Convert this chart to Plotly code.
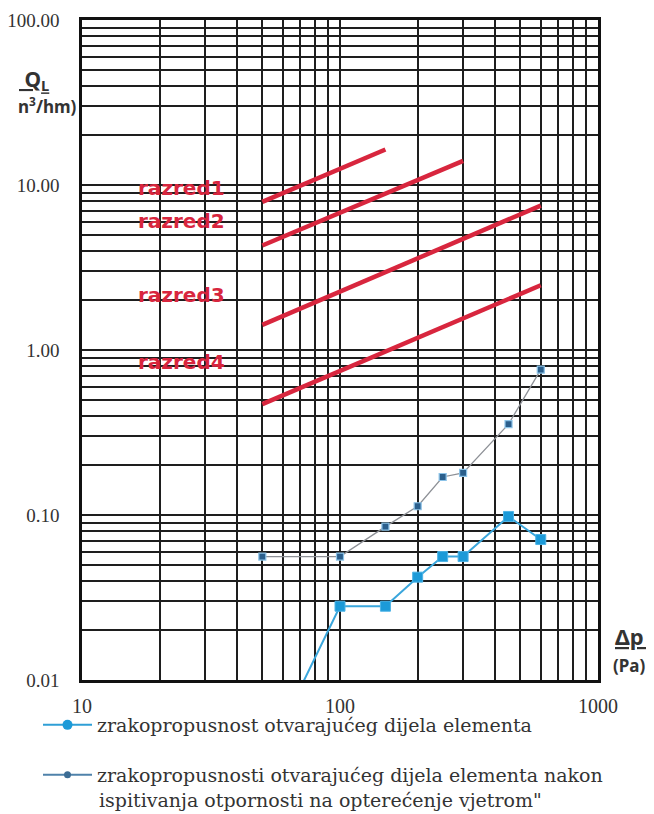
import plotly.graph_objects as go

# ---------------- data ----------------
razred_names = ["razred1", "razred2", "razred3", "razred4"]
razred1_dp = [50, 150]
razred1_q = [7.9, 16.4]
razred2_dp = [50, 300]
razred2_q = [4.3, 14.0]
razred3_dp = [50, 600]
razred3_q = [1.42, 7.5]
razred4_dp = [50, 600]
razred4_q = [0.47, 2.47]

series1_name = "zrakopropusnost otvarajućeg dijela elementa"
series1_dp = [50, 100, 150, 200, 250, 300, 450, 600]
series1_q = [0.003, 0.028, 0.028, 0.042, 0.056, 0.056, 0.098, 0.071]

series2_name = "zrakopropusnosti otvarajućeg dijela elementa nakon"
series2_name_line2 = "ispitivanja otpornosti na opterećenje vjetrom\""
series2_dp = [50, 100, 150, 200, 250, 300, 450, 600]
series2_q = [0.056, 0.056, 0.085, 0.113, 0.17, 0.18, 0.355, 0.76]

x_grid = [m * 10 ** e for e in (1, 2) for m in range(1, 10)] + [1000]
x_labels = {10: "10", 100: "100", 1000: "1000"}
y_grid = [m * 10.0 ** e for e in (-2, -1, 0, 1) for m in range(1, 10)] + [100]
y_labels = {0.01: "0.01", 0.1: "0.10", 1: "1.00", 10: "10.00", 100: "100.00"}

# ---------------- layout helpers ----------------
# page has an 8px body margin, so the figure is 8px smaller each way
OFF = 8
W, H = 654 - OFF, 814 - OFF
PL, PR, PT, PB = 82, 598, 20, 680          # plot area in page pixels
ML, MT = PL - OFF, PT - OFF
MR, MB = W - (PR - OFF), H - (PB - OFF)
PW, PH = PR - PL, PB - PT


def px_x(p):
    return (p - PL) / PW


def px_y(p):
    return (PB - p) / PH


RED = "#d8263e"
fig = go.Figure()

for name, xs, ys in zip(
    razred_names,
    [razred1_dp, razred2_dp, razred3_dp, razred4_dp],
    [razred1_q, razred2_q, razred3_q, razred4_q],
):
    fig.add_trace(go.Scatter(x=xs, y=ys, mode="lines", name=name,
                             line=dict(color=RED, width=4.5), showlegend=False))

fig.add_trace(go.Scatter(
    x=series1_dp, y=series1_q, mode="lines+markers", showlegend=False,
    line=dict(color="#3aa6dc", width=2),
    marker=dict(symbol="square", size=10, color="#1c9ad8",
                line=dict(color="#4db3e6", width=1))))
fig.add_trace(go.Scatter(
    x=series2_dp, y=series2_q, mode="lines+markers", showlegend=False,
    line=dict(color="#8d9096", width=1.3),
    marker=dict(symbol="square", size=7, color="#2b5f8c",
                line=dict(color="#8cc3e8", width=1.2))))

# legend entries
fig.add_trace(go.Scatter(
    x=[None], y=[None], mode="lines+markers", name=series1_name, legend="legend",
    line=dict(color="#2f9fd6", width=2),
    marker=dict(symbol="circle", size=10, color="#1c9ad8")))
fig.add_trace(go.Scatter(
    x=[None], y=[None], mode="lines+markers", name=series2_name, legend="legend2",
    line=dict(color="#4f82aa", width=2),
    marker=dict(symbol="circle", size=7, color="#3c6c94")))

grid_col = "#1e1e1e"
fig.update_xaxes(
    type="log", range=[1, 3], automargin=False,
    tickvals=x_grid, ticktext=[x_labels.get(v, "") for v in x_grid],
    showgrid=True, gridcolor=grid_col, gridwidth=1.7,
    showline=True, linecolor="#111", linewidth=2.5, mirror=True,
    ticks="", zeroline=False, ticklabelstandoff=6,
    tickfont=dict(family="Liberation Serif", size=20, color="#333"),
)
fig.update_yaxes(
    type="log", range=[-2, 2], automargin=False,
    tickvals=y_grid, ticktext=[y_labels.get(round(v, 4), "") for v in y_grid],
    showgrid=True, gridcolor=grid_col, gridwidth=1.7,
    showline=True, linecolor="#111", linewidth=2.5, mirror=True,
    ticks="", zeroline=False, ticklabelstandoff=16,
    tickfont=dict(family="Liberation Serif", size=19, color="#333"),
)

ann = []
label_y = [188, 221, 295, 362]
for name, py in zip(razred_names, label_y):
    ann.append(dict(x=px_x(181), y=px_y(py), xref="paper", yref="paper",
                    xanchor="center", yanchor="middle",
                    text="<b>" + name + "</b>", showarrow=False,
                    font=dict(family="DejaVu Sans", size=20, color=RED)))


def label(xp, yp, text, size, family="Noto Sans", xanchor="center"):
    ann.append(dict(x=px_x(xp), y=px_y(yp), xref="paper", yref="paper",
                    xanchor=xanchor, yanchor="middle", text=text,
                    showarrow=False,
                    font=dict(family=family, size=size, color="#333")))


label(34, 80, "<b><u> Q<sub>L</sub></u></b>", 21)
label(47, 106, "<b>n<sup>3</sup>/hm)</b>", 17)
label(632, 636, "<b><u>Δp </u></b>", 22)
label(629, 665, "<b>(Pa)</b>", 17)
label(97, 800, series2_name_line2, 19, family="DejaVu Serif", xanchor="left")

legend_font = dict(family="DejaVu Serif", size=19, color="#333")
fig.update_layout(
    width=W, height=H,
    margin=dict(l=ML, r=MR, t=MT, b=MB, autoexpand=False),
    paper_bgcolor="white", plot_bgcolor="white",
    annotations=ann,
    legend=dict(x=px_x(38), y=px_y(725), xanchor="left", yanchor="middle",
                itemwidth=49, font=legend_font, bgcolor="rgba(0,0,0,0)"),
    legend2=dict(x=px_x(38), y=px_y(775), xanchor="left", yanchor="middle",
                 itemwidth=49, font=legend_font, bgcolor="rgba(0,0,0,0)"),
)

fig.write_html("out.html")
